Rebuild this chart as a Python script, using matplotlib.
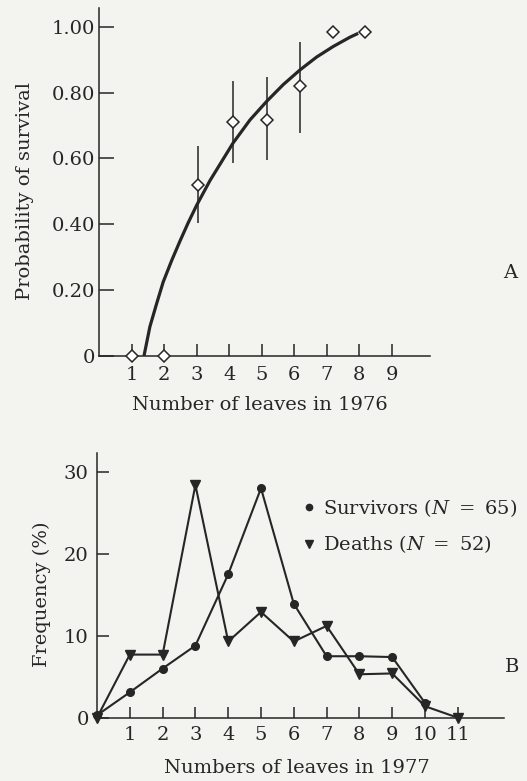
import matplotlib
matplotlib.use("Agg")
import matplotlib.pyplot as plt
from matplotlib.lines import Line2D

plt.rcParams["font.family"] = ["DejaVu Serif"]
plt.rcParams["mathtext.fontset"] = "dejavuserif"

# ---- panel A: survival vs leaves in 1976 ----
leaves_1976 = [1, 2, 3.05, 4.12, 5.15, 6.18, 7.18, 8.17]
survival = [0, 0, 0.52, 0.71, 0.717, 0.819, 0.984, 0.984]
err_x = [3.05, 4.12, 5.15, 6.18]
err_low = [0.405, 0.585, 0.596, 0.677]
err_high = [0.639, 0.834, 0.847, 0.955]

# fitted curve
curve_x = [1.378, 1.56, 1.77, 1.97, 2.23, 2.49, 2.74, 3.0, 3.41, 4.12,
           4.64, 5.15, 5.66, 6.18, 6.69, 7.2, 7.71, 7.97]
curve_y = [0, 0.089, 0.16, 0.225, 0.29, 0.35, 0.405, 0.458, 0.533, 0.647,
           0.717, 0.773, 0.824, 0.869, 0.908, 0.94, 0.968, 0.98]

a_yticks = [0, 0.2, 0.4, 0.6, 0.8, 1.0]
a_ylabels = ["0", "0.20", "0.40", "0.60", "0.80", "1.00"]
a_xticks = list(range(1, 10))

# ---- panel B: frequency vs leaves in 1977 ----
surv_x = [0, 1, 2, 3, 4, 5, 6, 7, 8, 9, 10]
surv_y = [0.3, 3.1, 6.0, 8.8, 17.5, 28.0, 13.9, 7.5, 7.5, 7.4, 1.8]
death_x = [0, 1, 2, 3, 4, 5, 6, 7, 8, 9, 10, 11]
death_y = [0, 7.7, 7.7, 28.4, 9.3, 12.9, 9.3, 11.2, 5.3, 5.4, 1.4, 0]
b_xticks = list(range(1, 12))
b_yticks = [0, 10, 20, 30]

INK = "#262626"
BG = "#f3f3ef"
FS = 14

fig = plt.figure(figsize=(5.27, 7.81), dpi=100, facecolor=BG)
W, H = 527.0, 781.0


def style_axes(ax):
    ax.set_facecolor("none")
    for s in ["top", "right"]:
        ax.spines[s].set_visible(False)
    for s in ["left", "bottom"]:
        ax.spines[s].set_color(INK)
        ax.spines[s].set_linewidth(1.1)


# panel A
axA = fig.add_axes([99.2 / W, 1 - 356 / H, 330.8 / W, 348 / H])
style_axes(axA)
axA.set_xlim(0, 10.18)
axA.set_ylim(0, 1.057)
axA.vlines(err_x, err_low, err_high, color=INK, lw=1.1)
axA.plot(curve_x, curve_y, color=INK, lw=2.3, solid_capstyle="butt")
axA.plot(leaves_1976, survival, "D", ms=6, mfc="white", mec=INK, mew=1.1,
         clip_on=False, zorder=5)
axA.set_xticks(a_xticks)
axA.set_yticks(a_yticks)
axA.set_yticklabels(a_ylabels)
axA.tick_params(axis="x", direction="in", length=9, width=1.1, pad=7,
                labelsize=FS, colors=INK)
axA.tick_params(axis="y", direction="in", length=11, width=1.1, pad=3,
                labelsize=FS, colors=INK)
fig.text(25 / W, 1 - 191 / H, "Probability of survival", rotation=90,
         ha="center", va="center", fontsize=FS, color=INK)
fig.text(260 / W, 1 - 405 / H, "Number of leaves in 1976",
         ha="center", va="center", fontsize=FS, color=INK)
fig.text(510 / W, 1 - 273 / H, "A", ha="center", va="center",
         fontsize=FS, color=INK)

# panel B
axB = fig.add_axes([97 / W, 1 - 717.7 / H, 406.7 / W, 264.7 / H])
style_axes(axB)
axB.set_xlim(0, 12.4)
axB.set_ylim(0, 32.3)
axB.plot(surv_x, surv_y, color=INK, lw=1.5, marker="o", ms=5.5,
         clip_on=False, zorder=4)
axB.plot(death_x, death_y, color=INK, lw=1.5, marker="v", ms=7.5,
         clip_on=False, zorder=4)
axB.set_xticks(b_xticks)
axB.set_yticks(b_yticks)
axB.tick_params(axis="x", direction="in", length=8, width=1.1, pad=6,
                labelsize=FS, colors=INK)
axB.tick_params(axis="y", direction="in", length=8.5, width=1.1, pad=6,
                labelsize=FS, colors=INK)
fig.text(41.7 / W, 1 - 594 / H, "Frequency (%)", rotation=90,
         ha="center", va="center", fontsize=FS, color=INK)
fig.text(297 / W, 1 - 768 / H, "Numbers of leaves in 1977",
         ha="center", va="center", fontsize=FS, color=INK)
fig.text(512 / W, 1 - 667 / H, "B", ha="center", va="center",
         fontsize=FS, color=INK)

handles = [
    Line2D([], [], ls="none", marker="o", ms=4.5, color=INK),
    Line2D([], [], ls="none", marker="v", ms=6, color=INK),
]
labels = [r"Survivors ($N\ =\ 65$)", r"Deaths ($N\ =\ 52$)"]
axB.legend(handles, labels, loc="upper left",
           bbox_to_anchor=(304 / W, 1 - 497 / H), bbox_transform=fig.transFigure,
           frameon=False, fontsize=FS, handlelength=0.5, handletextpad=0.5,
           labelspacing=0.75, borderaxespad=0, borderpad=0, labelcolor=INK)

fig.savefig("out.png", dpi=100, facecolor=BG)
